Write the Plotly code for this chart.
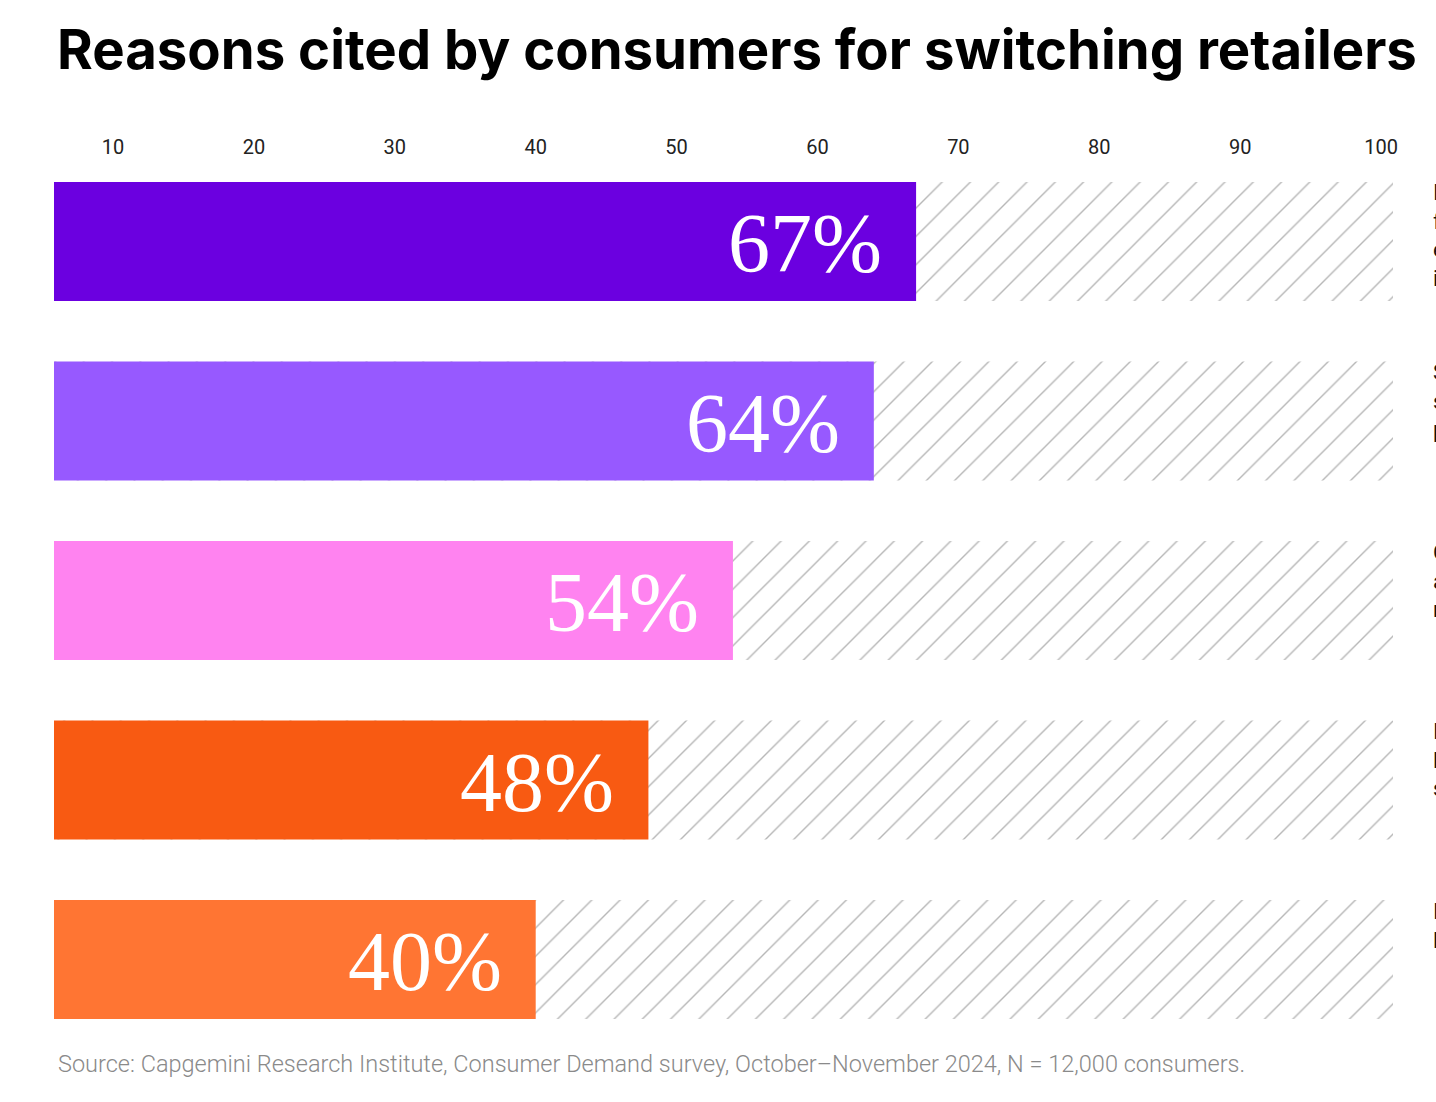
import plotly.graph_objects as go

# ---- data ----
categories = [
    "Inability to find<br>fast and easy<br>experiences<br>in store",
    "Subpar product<br>selection or<br>pricing",
    "Complicated<br>and lengthy<br>returns",
    "Inconvenient<br>loyalty<br>schemes",
    "Irrelevant<br>loyalty offers",
]
values = [67, 64, 54, 48, 40]
value_labels = ["67%", "64%", "54%", "48%", "40%"]
bar_colors = ["#6B00E0", "#9759FF", "#FF83F0", "#F85A12", "#FF7533"]
tick_vals = [10, 20, 30, 40, 50, 60, 70, 80, 90, 100]
title_text = "Reasons cited by consumers for switching retailers"
source_text = "Source: Capgemini Research Institute, Consumer Demand survey, October\u2013November 2024, N = 12,000 consumers."

# ---- layout constants ----
W, H = 1436, 1102
X_RANGE = [5.81, 100.85]
ML, MR, MT, MB = 54, 43, 165, 62
plot_h = H - MT - MB

fig = go.Figure()

# hatched background track
fig.add_trace(go.Bar(
    y=categories, x=[X_RANGE[1]] * len(categories), orientation="h",
    marker=dict(color="white", line=dict(width=0),
                pattern=dict(shape="/", fgcolor="#6e6e6e", bgcolor="white",
                             size=20, solidity=0.07)),
    hoverinfo="skip", showlegend=False,
))

# value bars
fig.add_trace(go.Bar(
    y=categories, x=values, orientation="h",
    marker=dict(color=bar_colors, line=dict(width=0)),
    showlegend=False,
))

annotations = []
for cat, v, lab in zip(categories, values, value_labels):
    annotations.append(dict(
        x=v, y=cat, xref="x", yref="y", text=lab, showarrow=False,
        xanchor="right", yanchor="middle", xshift=-32, yshift=-2,
        font=dict(family="Liberation Serif", size=84, color="white"),
    ))
    annotations.append(dict(
        x=1 + 38 / (W - ML - MR), y=cat, xref="paper", yref="y",
        text=cat, showarrow=False, xanchor="left", yanchor="top",
        yshift=63, align="left",
        font=dict(family="Roboto", size=22, color="#111111"),
    ))

annotations.append(dict(
    x=2 / (W - ML - MR), y=-24 / plot_h, xref="paper", yref="paper",
    text=source_text, showarrow=False, xanchor="left", yanchor="middle",
    font=dict(family="Roboto", size=23.5, color="#8a8a8a", weight=300),
))

fig.update_layout(
    width=W, height=H,
    margin=dict(l=ML, r=MR, t=MT, b=MB, pad=0),
    paper_bgcolor="white", plot_bgcolor="white",
    barmode="overlay", bargap=0.337,
    title=dict(text=f"<b>{title_text}</b>", x=57 / W, xref="container",
               xanchor="left", y=1 - 50 / H, yref="container", yanchor="middle",
               font=dict(family="Inter", size=54.5, color="black")),
    xaxis=dict(range=X_RANGE, side="top", tickvals=tick_vals,
               showgrid=False, zeroline=False, showline=False, ticks="",
               ticklabelstandoff=6,
               tickfont=dict(family="Roboto", size=20, color="#222222")),
    yaxis=dict(range=[4.448, -0.426], showticklabels=False, showgrid=False,
               zeroline=False, showline=False, ticks=""),
    annotations=annotations,
)

fig.write_html("out.html")
